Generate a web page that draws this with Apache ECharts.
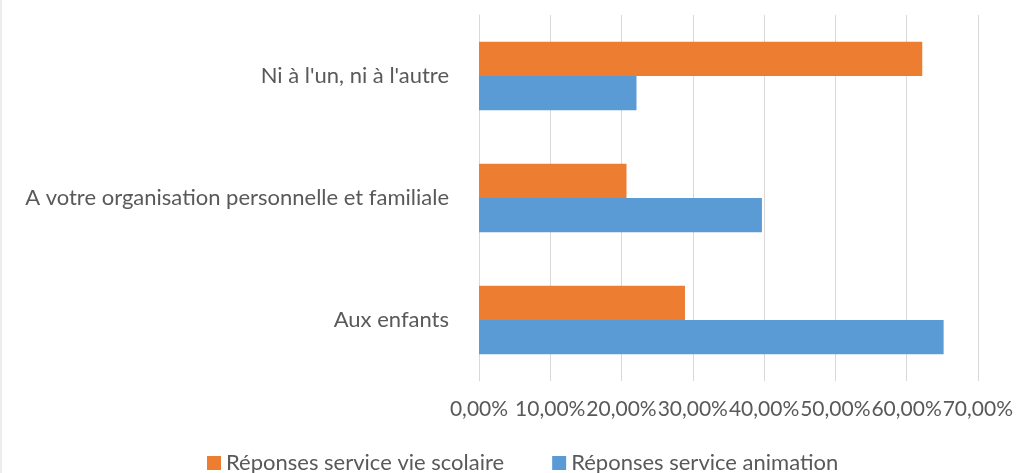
<!doctype html>
<html>
 <head>
  <meta charset="UTF-8">
  <script src="https://cdn.jsdelivr.net/npm/echarts@6/dist/echarts.min.js"></script>
  <title>Réponses</title>
  <style>
   html, body { margin: 0; padding: 0; background: #fff; }
   #chart { width: 1016px; height: 473px; }
  </style>
 </head>
 <body>
  <div id="chart"></div>
  <script type="text/javascript">
    // categories, bottom to top (echarts draws a category y axis upward)
    var categories = ['Aux enfants', 'A votre organisation personnelle et familiale', "Ni à l'un, ni à l'autre"];
    var seriesNames = ['Réponses service vie scolaire', 'Réponses service animation'];
    var vieScolaire = [28.9, 20.7, 62.2];
    var animation = [65.2, 39.7, 22.1];
    var xTicks = [0, 10, 20, 30, 40, 50, 60, 70];

    var font = 'Lato, "Noto Sans", sans-serif';
    var txt = '#595959';

    var myChart = echarts.init(document.getElementById('chart'));
    myChart.setOption({
        animation: false,
        textStyle: { fontFamily: font },
        graphic: [{
            type: 'line',
            shape: { x1: 1, y1: 0, x2: 1, y2: 473 },
            style: { stroke: '#d9d9d9', lineWidth: 1 }
        }],
        legend: {
            data: seriesNames,
            top: 447,
            left: 202,
            itemWidth: 14,
            itemHeight: 14,
            itemGap: 48,
            icon: 'rect',
            textStyle: { color: txt, fontSize: 22, fontFamily: font }
        },
        grid: { left: 479, right: 37, top: 15, bottom: 92, containLabel: false },
        xAxis: {
            type: 'value',
            min: xTicks[0],
            max: xTicks[xTicks.length - 1],
            interval: 10,
            axisLine: { show: false },
            axisTick: { show: false },
            splitLine: { lineStyle: { color: '#d9d9d9', width: 1 } },
            axisLabel: {
                color: txt,
                fontSize: 21,
                margin: 18,
                fontFamily: font,
                showMinLabel: true,
                showMaxLabel: true,
                hideOverlap: false,
                formatter: function (v) { return v.toFixed(2).replace('.', ',') + '%'; }
            }
        },
        yAxis: {
            type: 'category',
            data: categories,
            axisLine: { lineStyle: { color: '#d9d9d9' } },
            axisTick: { show: false },
            axisLabel: { color: txt, fontSize: 22, margin: 30, fontFamily: font }
        },
        series: [{
            name: seriesNames[0],
            type: 'bar',
            data: vieScolaire,
            itemStyle: { color: '#ED7D31' },
            barGap: '0%',
            barCategoryGap: '44%'
        }, {
            name: seriesNames[1],
            type: 'bar',
            data: animation,
            itemStyle: { color: '#5B9BD5' },
            barGap: '0%',
            barCategoryGap: '44%'
        }]
    });
  </script>
 </body>
</html>
